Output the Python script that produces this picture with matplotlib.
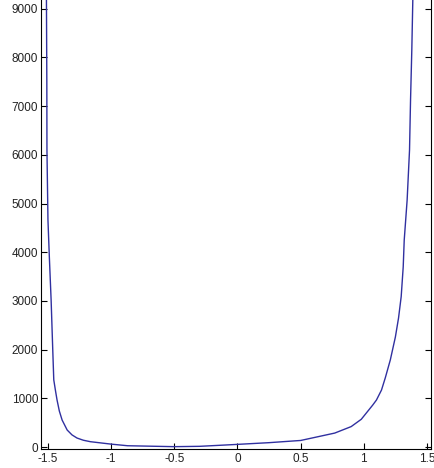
import matplotlib
matplotlib.use("Agg")
import matplotlib.pyplot as plt

# values
x_vals = [-1.514, -1.512, -1.509, -1.508, -1.500, -1.489, -1.475, -1.462, -1.454,
          -1.44, -1.428, -1.41, -1.388, -1.348, -1.31, -1.27, -1.22, -1.164, -1.0,
          -0.87, -0.5, -0.3, -0.11, 0.0, 0.25, 0.47, 0.5, 0.66, 0.77, 0.9, 0.98,
          1.07, 1.10, 1.14, 1.17, 1.21, 1.25, 1.275, 1.296, 1.312, 1.32, 1.343,
          1.362, 1.37, 1.38, 1.388, 1.395]
y_vals = [9800, 9180, 7500, 6100, 4660, 3900, 3020, 1990, 1380,
          1150, 965, 740, 555, 350, 250, 185, 140, 110, 60,
          27, 8, 15, 40, 55, 90, 130, 135, 225, 287, 420, 570,
          860, 965, 1170, 1420, 1790, 2260, 2650, 3090, 3700, 4250, 5070,
          6100, 7125, 8150, 9180, 9900]

x_ticks = [-1.5, -1, -0.5, 0, 0.5, 1, 1.5]
x_labels = ["-1.5", "-1", "-0.5", "0", "0.5", "1", "1.5"]
y_ticks = [0, 1000, 2000, 3000, 4000, 5000, 6000, 7000, 8000, 9000]

plt.rcParams["font.family"] = ["Liberation Sans", "DejaVu Sans"]

fig = plt.figure(figsize=(4.34, 4.68), dpi=100)
ax = fig.add_axes([0.0945, 0.0406, 0.8986, 0.9594])
ax.plot(x_vals, y_vals, color="#3030a0", linewidth=1.0)

ax.set_xlim(-1.555, 1.532)
ax.set_ylim(-40, 9180)
ax.set_xticks(x_ticks)
ax.set_xticklabels(x_labels)
ax.set_yticks(y_ticks)
ax.tick_params(direction="in", length=4, width=0.8, labelsize=8.5,
               right=True, top=False, colors="black", labelcolor="#222222")
ax.tick_params(axis="x", pad=3)
ax.tick_params(axis="y", pad=2)
ax.spines["top"].set_visible(False)
for s in ["left", "right", "bottom"]:
    ax.spines[s].set_linewidth(0.8)

fig.savefig("out.png", dpi=100)
